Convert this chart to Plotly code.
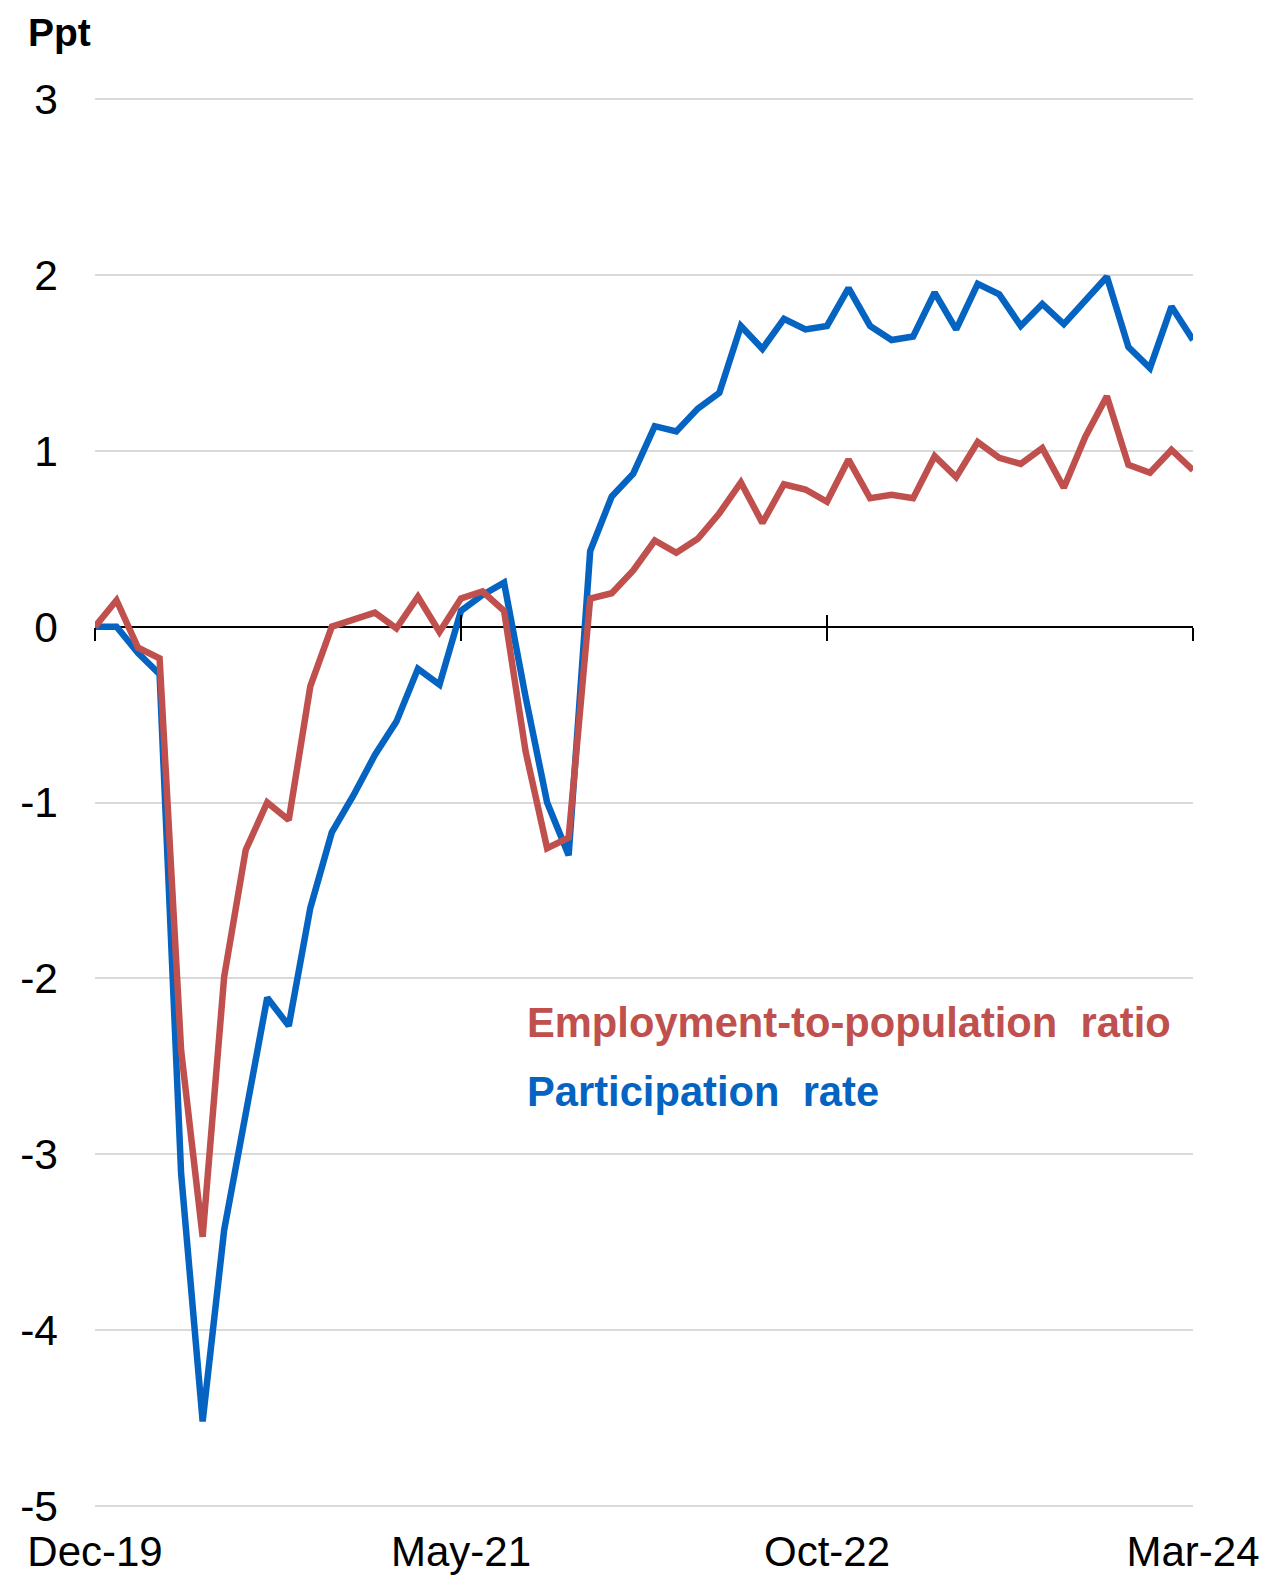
import pandas as pd
import plotly.graph_objects as go

# Monthly categories Dec-19 .. Mar-24
months = list(pd.period_range("2019-12", "2024-03", freq="M").strftime("%b-%y"))
tick_labels = ["Dec-19", "May-21", "Oct-22", "Mar-24"]
y_ticks = [3, 2, 1, 0, -1, -2, -3, -4, -5]

# Change since Dec-19, percentage points
epop_ratio = [0.00, 0.15, -0.12, -0.18, -2.41, -3.47, -1.99, -1.27, -1.00, -1.10,
              -0.34, 0.00, 0.04, 0.08, -0.01, 0.17, -0.03, 0.16, 0.20, 0.09,
              -0.71, -1.26, -1.20, 0.16, 0.19, 0.32, 0.49, 0.42, 0.50, 0.645,
              0.82, 0.59, 0.81, 0.78, 0.71, 0.95, 0.73, 0.75, 0.73, 0.97,
              0.85, 1.05, 0.96, 0.925, 1.015, 0.79, 1.08, 1.31, 0.92, 0.875,
              1.005, 0.89]
participation = [0.00, 0.00, -0.15, -0.27, -3.11, -4.52, -3.43, -2.79, -2.11, -2.27,
                 -1.60, -1.17, -0.96, -0.73, -0.54, -0.24, -0.33, 0.09, 0.18, 0.25,
                 -0.40, -1.00, -1.30, 0.43, 0.74, 0.87, 1.14, 1.11, 1.24, 1.33,
                 1.71, 1.58, 1.75, 1.69, 1.71, 1.925, 1.71, 1.63, 1.65, 1.90,
                 1.69, 1.95, 1.89, 1.71, 1.835, 1.72, 1.85, 1.99, 1.59, 1.47,
                 1.82, 1.63]

RED = "#C0504D"
BLUE = "#0563C1"
FONT = "Liberation Sans, Arial, sans-serif"
Y_RANGE = [-5.012, 3.012]

fig = go.Figure()
fig.add_trace(go.Scatter(x=months, y=participation, mode="lines",
                         line=dict(color=BLUE, width=6.5), name="Participation rate",
                         showlegend=False))
fig.add_trace(go.Scatter(x=months, y=epop_ratio, mode="lines",
                         line=dict(color=RED, width=6.5), name="Employment-to-population ratio",
                         showlegend=False))
# invisible helper traces so the zero-line tick axes render
for ax in ["x2", "x3"]:
    fig.add_trace(go.Scatter(x=months, y=epop_ratio, mode="lines", xaxis=ax, yaxis="y",
                             line=dict(width=0), hoverinfo="skip", showlegend=False,
                             opacity=0))

common_x = dict(type="category", categoryorder="array", categoryarray=months,
                range=[0, len(months) - 1], tickvals=tick_labels, ticktext=tick_labels,
                showgrid=False, zeroline=False, automargin=False)

zero_pos = (0 - Y_RANGE[0]) / (Y_RANGE[1] - Y_RANGE[0])

fig.update_layout(
    width=1267, height=1577,
    margin=dict(l=95, r=74, t=97, b=69),
    paper_bgcolor="white", plot_bgcolor="white",
    font=dict(family=FONT, color="black", size=42),
    xaxis=dict(**common_x, showline=False, ticks="", ticklabelstandoff=15,
               tickfont=dict(size=42)),
    xaxis2=dict(**common_x, overlaying="x", anchor="free", position=zero_pos,
                showticklabels=False, showline=False, ticks="outside", ticklen=13,
                tickwidth=2, tickcolor="black"),
    xaxis3=dict(**common_x, overlaying="x", anchor="free", position=zero_pos,
                showticklabels=False, showline=False, ticks="inside", ticklen=12,
                tickwidth=2, tickcolor="black"),
    yaxis=dict(range=Y_RANGE, tickvals=y_ticks, ticktext=[str(v) for v in y_ticks],
               showgrid=True, gridcolor="#D9D9D9", gridwidth=1.5,
               zeroline=True, zerolinecolor="black", zerolinewidth=2,
               showline=False, ticks="", ticklabelstandoff=36, automargin=False,
               tickfont=dict(size=42.5)),
    annotations=[
        dict(text="<b>Ppt</b>", xref="paper", yref="paper", x=-0.063, y=1.046,
             xanchor="left", yanchor="middle", showarrow=False,
             font=dict(size=39, color="black")),
        dict(text="<b>Employment-to-population  ratio</b>", xref="paper", yref="paper",
             x=0.392, y=0.344, xanchor="left", yanchor="middle", showarrow=False,
             font=dict(size=41.7, color=RED)),
        dict(text="<b>Participation  rate</b>", xref="paper", yref="paper",
             x=0.392, y=0.295, xanchor="left", yanchor="middle", showarrow=False,
             font=dict(size=41.7, color=BLUE)),
    ],
)

fig.write_html("out.html", config={"displayModeBar": False},
               post_script="document.body.style.margin='0';")
